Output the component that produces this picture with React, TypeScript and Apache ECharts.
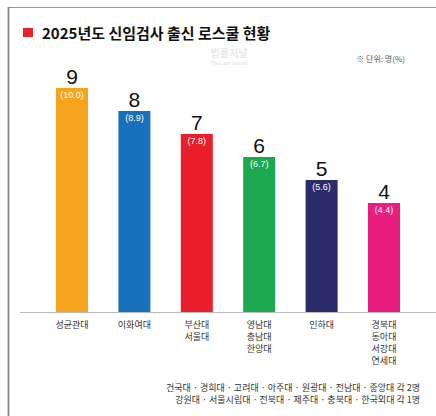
import React, { useEffect, useRef } from "react";
import * as echarts from "echarts";

const categories = [
  "성균관대",
  "이화여대",
  "부산대\n서울대",
  "영남대\n충남대\n한양대",
  "인하대",
  "경북대\n동아대\n서강대\n연세대",
];
const counts = [9, 8, 7, 6, 5, 4];
const shares = [10.0, 8.9, 7.8, 6.7, 5.6, 4.4];
const barColors = ["#F6A31E", "#1670BA", "#EA1D2B", "#1BA84F", "#2B2A6B", "#E81E7E"];
const titleText = "2025년도 신임검사 출신 로스쿨 현황";
const unitText = "※ 단위: 명(%)";
const noteLines = [
  "건국대 · 경희대 · 고려대 · 아주대 · 원광대 · 전남대 · 중앙대 각 2명",
  "강원대 · 서울시립대 · 전북대 · 제주대 · 충북대 · 한국외대 각 1명",
];
// visual baseline offset of the original design (bars start below value 0)
const baseOffset = 0.74;

const KR = "'Noto Sans CJK KR', 'Noto Sans', sans-serif";
const AR = "'Liberation Sans', Arial, sans-serif";

export default function App() {
  const ref = useRef<HTMLDivElement>(null);
  useEffect(() => {
    if (!ref.current) return;
    const chart = echarts.init(ref.current, null, { renderer: "svg" });
    chart.setOption({
      animation: false,
      backgroundColor: "#ffffff",
      grid: { left: 40.8, right: 20.8, top: 59, bottom: 104 },
      xAxis: {
        type: "category",
        data: categories,
        axisLine: { show: false },
        axisTick: { show: false },
        axisLabel: {
          interval: 0,
          fontSize: 9,
          color: "#333",
          fontFamily: KR,
          lineHeight: 12,
          margin: 6,
        },
      },
      yAxis: { type: "value", min: 0, max: 11, show: false, splitLine: { show: false } },
      series: [
        {
          type: "bar",
          stack: "s",
          silent: true,
          barWidth: 32,
          data: categories.map(() => baseOffset),
          itemStyle: { color: (p: any) => barColors[p.dataIndex] },
        },
        {
          type: "bar",
          stack: "s",
          barWidth: 32,
          data: counts.map((v, i) => ({ value: v, itemStyle: { color: barColors[i] } })),
          label: {
            show: true,
            position: "top",
            distance: 5,
            offset: [0, 18],
            formatter: (p: any) =>
              `{n|${counts[p.dataIndex]}}\n{p|(${shares[p.dataIndex].toFixed(1)})}`,
            rich: {
              n: { fontSize: 21, color: "#111", fontFamily: AR, lineHeight: 24 },
              p: { fontSize: 9, color: "#fff", fontFamily: AR, lineHeight: 12 },
            },
          },
        },
      ],
      graphic: [
        { type: "line", shape: { x1: 8, y1: 7.5, x2: 436, y2: 7.5 }, style: { stroke: "#999", lineWidth: 1 } },
        { type: "line", shape: { x1: 8.5, y1: 7, x2: 8.5, y2: 416 }, style: { stroke: "#888", lineWidth: 1.8 } },
        { type: "line", shape: { x1: 20, y1: 312.5, x2: 436, y2: 312.5 }, style: { stroke: "#bbb", lineWidth: 1 } },
        {
          type: "text",
          x: 229,
          y: 52,
          z: 1,
          style: { text: "법률저널", fill: "#e8e8e8", font: `bold 10px ${KR}`, align: "center", verticalAlign: "middle" },
        },
        {
          type: "text",
          x: 229,
          y: 63,
          z: 1,
          style: { text: "The Law Journal", fill: "#e2e2e2", font: `5px ${AR}`, align: "center", verticalAlign: "middle" },
        },
        { type: "rect", z: 2, shape: { x: 23, y: 28, width: 10, height: 9 }, style: { fill: "#E8202A" } },
        {
          type: "text",
          x: 42,
          y: 32,
          z: 2,
          style: { text: titleText, fill: "#111", font: `bold 15px ${KR}`, verticalAlign: "middle" },
        },
        {
          type: "text",
          x: 405,
          y: 58,
          style: { text: unitText, fill: "#555", font: `8px ${KR}`, align: "right", verticalAlign: "middle" },
        },
        {
          type: "text",
          x: 420,
          y: 393,
          style: {
            text: noteLines.join("\n"),
            fill: "#333",
            font: `9px ${KR}`,
            lineHeight: 12,
            align: "right",
            verticalAlign: "middle",
          },
        },
      ],
    });
    return () => chart.dispose();
  }, []);
  return (
    <div
      ref={ref}
      style={{ position: "fixed", left: 0, top: 0, width: 436, height: 416 }}
    />
  );
}
